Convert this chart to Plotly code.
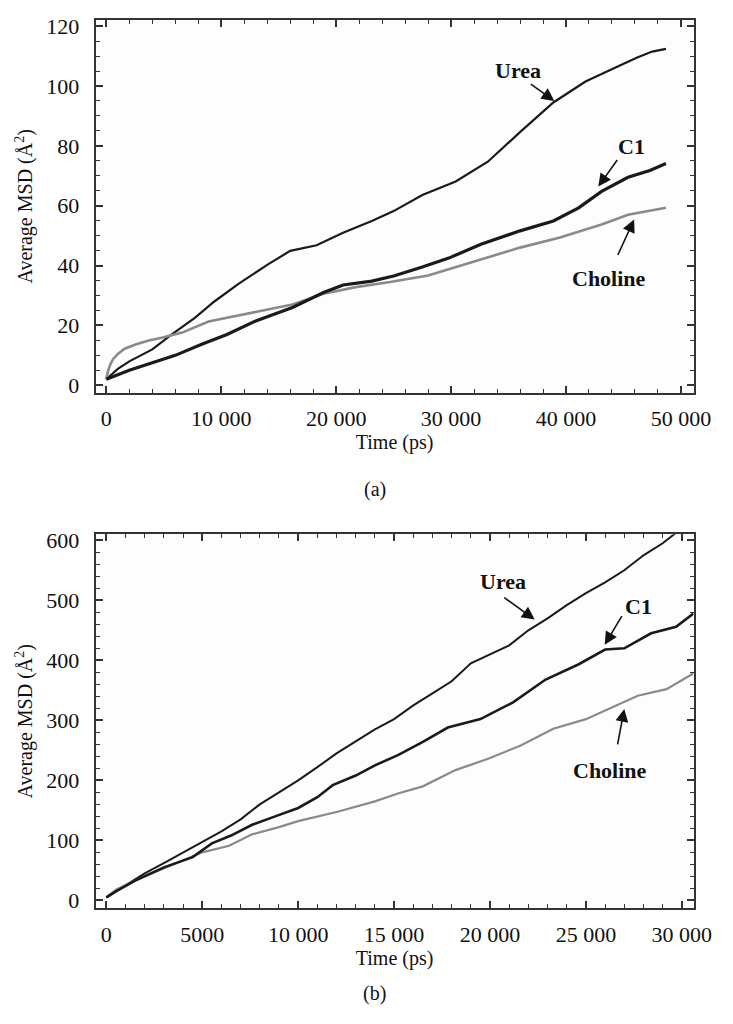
import plotly.graph_objects as go

# ---- Panel (a): 50 ns run ----
t_urea_a = [0, 1000, 2000, 4000, 5700, 7700, 9400, 11500, 14100, 16000, 18300, 20600,
            23100, 25000, 27500, 30400, 33200, 36000, 38900, 41700, 44500, 46200,
            47500, 48700]
msd_urea_a = [2, 5.5, 8, 12, 17, 22.5, 28, 33.9, 40.5, 44.9, 46.8, 51.0,
              54.9, 58.2, 63.6, 68.1, 74.7, 84.6, 94.5, 101.5, 106.5, 109.5,
              111.5, 112.4]

t_c1_a = [0, 2000, 4000, 6000, 8300, 10500, 13000, 16200, 18900, 20600, 23100, 25000,
          27500, 29800, 32600, 36000, 38900, 41100, 43100, 45400, 47300, 48700]
msd_c1_a = [2, 5, 7.5, 10, 13.7, 17, 21.5, 26, 31, 33.5, 34.8, 36.5,
            39.5, 42.5, 47.1, 51.6, 54.9, 59.3, 64.8, 69.5, 71.8, 74.1]

t_chol_a = [0, 150, 350, 600, 1000, 1600, 2600, 3700, 4900, 6600, 8900, 11100, 13400,
            16200, 18900, 21700, 24700, 28000, 31700, 36000, 39400, 43100, 45400, 48700]
msd_chol_a = [2, 4.8, 7, 8.8, 10.5, 12.2, 13.7, 15, 16, 17.6, 21.3, 23.1, 24.8,
              27, 30.6, 32.8, 34.5, 36.7, 41.1, 46, 49.3, 53.7, 57, 59.3]

# ---- Panel (b): 30 ns run ----
t_urea_b = [0, 1000, 2000, 3000, 4000, 5000, 6000, 7000, 8000, 9000, 10000, 11000,
            12000, 13000, 14000, 15000, 16000, 17000, 18000, 19000, 20000, 21000,
            22000, 23000, 24000, 25000, 26000, 27000, 28000, 29000, 30000, 30600]
msd_urea_b = [5, 25, 45, 62, 80, 97, 115, 135, 160, 180, 200, 222,
              245, 265, 285, 302, 325, 345, 365, 395, 410, 425,
              450, 470, 492, 512, 530, 550, 575, 595, 620, 632]

t_c1_b = [0, 500, 1500, 3000, 4500, 5500, 6500, 7600, 8800, 10000, 11000, 11800, 13000,
          14000, 15200, 16500, 17800, 19500, 21200, 22900, 24600, 26000, 27000, 28400,
          29700, 30600]
msd_c1_b = [5, 15, 33, 55, 72, 95, 108, 126, 140, 154, 172, 192, 208,
            225, 242, 264, 288, 302, 330, 368, 393, 418, 420, 445,
            456, 478]

t_chol_b = [0, 500, 1500, 3500, 5000, 6400, 7600, 9000, 10000, 12100, 14000, 15200,
            16500, 18200, 19900, 21600, 23300, 25000, 26500, 27700, 29200, 30600]
msd_chol_b = [5, 18, 33, 60, 80, 91, 110, 122, 132, 148, 165, 178,
              190, 217, 236, 258, 286, 302, 324, 341, 352, 378]

# tick labels
xtick_a = [0, 10000, 20000, 30000, 40000, 50000]
xtext_a = ["0", "10 000", "20 000", "30 000", "40 000", "50 000"]
ytick_a = [0, 20, 40, 60, 80, 100, 120]
xtick_b = [0, 5000, 10000, 15000, 20000, 25000, 30000]
xtext_b = ["0", "5000", "10 000", "15 000", "20 000", "25 000", "30 000"]
ytick_b = [0, 100, 200, 300, 400, 500, 600]

FONT = "'Liberation Serif', 'Times New Roman', serif"
DARK = "#1a1a1a"
GRAY = "#8a8a8a"
AXC = "#333333"
TXT = "#111111"

fig = go.Figure()

def add(t, v, color, width, xa, ya):
    fig.add_trace(go.Scatter(x=t, y=v, mode="lines", xaxis=xa, yaxis=ya,
                             line=dict(color=color, width=width), showlegend=False,
                             hoverinfo="skip"))

add(t_urea_a, msd_urea_a, DARK, 2.2, "x", "y")
add(t_chol_a, msd_chol_a, GRAY, 2.6, "x", "y")
add(t_c1_a, msd_c1_a, DARK, 3.2, "x", "y")
add(t_urea_b, msd_urea_b, DARK, 2.0, "x2", "y2")
add(t_chol_b, msd_chol_b, GRAY, 2.2, "x2", "y2")
add(t_c1_b, msd_c1_b, DARK, 2.6, "x2", "y2")

def xaxis_cfg(domain, rng, vals, text, minor_dtick, anchor):
    return dict(domain=domain, range=rng, anchor=anchor, tickmode="array",
                tickvals=vals, ticktext=text, ticks="inside", ticklen=7, tickwidth=1.5,
                tickcolor=AXC, minor=dict(tick0=0, dtick=minor_dtick, ticks="inside",
                                          ticklen=4, tickwidth=1.2, tickcolor=AXC),
                showline=True, linecolor=AXC, linewidth=2, mirror="ticks",
                showgrid=False, zeroline=False, ticklabelstandoff=5,
                tickfont=dict(family=FONT, size=22, color=TXT),
                title=dict(text="Time (ps)", font=dict(family=FONT, size=20, color=TXT),
                           standoff=4))

def yaxis_cfg(domain, rng, vals, minor_dtick, anchor):
    return dict(domain=domain, range=rng, anchor=anchor, tickmode="array",
                tickvals=vals, ticks="inside", ticklen=7, tickwidth=1.5,
                tickcolor=AXC, minor=dict(tick0=0, dtick=minor_dtick, ticks="inside",
                                          ticklen=4, tickwidth=1.2, tickcolor=AXC),
                showline=True, linecolor=AXC, linewidth=2, mirror="ticks",
                showgrid=False, zeroline=False, ticklabelstandoff=10,
                tickfont=dict(family=FONT, size=22, color=TXT),
                title=dict(text="Average MSD (Å<sup>2</sup>)",
                           font=dict(family=FONT, size=20, color=TXT), standoff=8))

fig.update_layout(
    width=733, height=1024,
    margin=dict(l=0, r=0, t=0, b=0),
    paper_bgcolor="white", plot_bgcolor="#fdfdfd",
    font=dict(family=FONT, color=TXT),
    xaxis=xaxis_cfg([0.1337, 0.970], [-934, 51100], xtick_a, xtext_a, 2000, "y"),
    yaxis=yaxis_cfg([0.6182, 0.9863], [-2.5, 122.1], ytick_a, 5, "x"),
    xaxis2=xaxis_cfg([0.1337, 0.970], [-560, 30610], xtick_b, xtext_b, 1000, "y2"),
    yaxis2=yaxis_cfg([0.1094, 0.4785], [-13, 610], ytick_b, 20, "x2"),
)

# curve labels with arrows
labels = [
    # (text, x, y, head_x, head_y, ax, ay, xref, yref)
    ("Urea", 35800, 105.3, 38990, 95.0, -25, -18, "x", "y"),
    ("C1", 45700, 79.8, 42810, 66.4, 20, -28, "x", "y"),
    ("Choline", 43720, 35.8, 45930, 55.4, -17, 37, "x", "y"),
    ("Urea", 20690, 531, 22330, 468, -32, -23, "x2", "y2"),
    ("C1", 27760, 489, 25980, 426, 18, -30, "x2", "y2"),
    ("Choline", 26270, 217, 27000, 319, -7, 37, "x2", "y2"),
]
for text, tx, ty, hx, hy, ax, ay, xr, yr in labels:
    fig.add_annotation(x=tx, y=ty, xref=xr, yref=yr, text=f"<b>{text}</b>",
                       showarrow=False, font=dict(family=FONT, size=22, color=TXT))
    fig.add_annotation(x=hx, y=hy, xref=xr, yref=yr, text="", showarrow=True,
                       ax=ax, ay=ay, arrowhead=2, arrowsize=1.6, arrowwidth=1.6,
                       arrowcolor=TXT)

for txt, ypos in [("(a)", 1 - 489 / 1024), ("(b)", 1 - 1012 / 1024)]:
    fig.add_annotation(x=(384 / 733), y=ypos, xref="paper", yref="paper", text=txt,
                       showarrow=False, font=dict(family=FONT, size=20, color=TXT))

fig.write_html("out.html")
